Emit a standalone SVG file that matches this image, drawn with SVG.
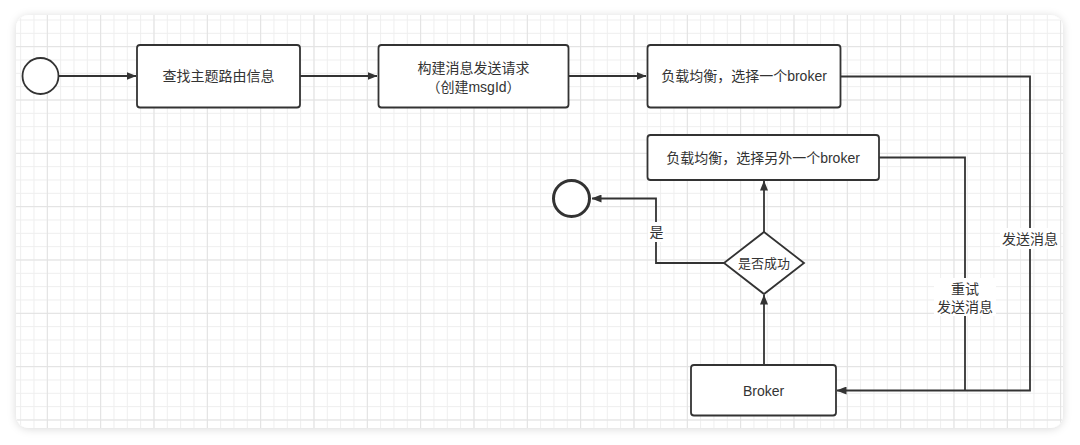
<svg xmlns="http://www.w3.org/2000/svg" width="1080" height="445" viewBox="0 0 1080 445">
  <style>
    .node { fill: #ffffff; stroke: #333333; stroke-width: 1.8; }
    .txt { font-family: "Liberation Sans", "Noto Sans CJK SC", sans-serif; font-size: 14px; fill: #333333; text-anchor: middle; dominant-baseline: central; }
    .edge { fill: none; stroke: #333333; stroke-width: 1.8; }
    .lbl-bg { fill: #ffffff; }
  </style>
  <defs>
    <filter id="shadow" x="-5%" y="-10%" width="110%" height="120%">
      <feDropShadow dx="0" dy="1" stdDeviation="4" flood-color="#000000" flood-opacity="0.15"/>
    </filter>
    <pattern id="minor" patternUnits="userSpaceOnUse" x="6.83" y="6.17" width="13.333" height="13.333">
      <path d="M0.5 0 V13.333 M0 0.5 H13.333" stroke="#eeeeee" stroke-width="1" fill="none"/>
    </pattern>
    <pattern id="major" patternUnits="userSpaceOnUse" x="46.83" y="46.17" width="53.333" height="53.333">
      <path d="M0.5 0 V53.333 M0 0.5 H53.333" stroke="#e2e2e2" stroke-width="1" fill="none"/>
    </pattern>
    <clipPath id="cardclip">
      <rect x="16" y="15" width="1047" height="413" rx="13"/>
    </clipPath>
    <marker id="arrow" viewBox="0 0 10 8" refX="9.5" refY="4" markerWidth="10" markerHeight="8" markerUnits="userSpaceOnUse" orient="auto">
      <path d="M0 0 L10 4 L0 8 Z" fill="#333333"/>
    </marker>
  </defs>

  <rect width="1080" height="445" fill="#ffffff"/>
  <rect x="16" y="15" width="1047" height="413" rx="13" fill="#ffffff" filter="url(#shadow)"/>
  <g clip-path="url(#cardclip)">
    <rect x="16" y="15" width="1047" height="413" fill="url(#minor)"/>
    <rect x="16" y="15" width="1047" height="413" fill="url(#major)"/>
  </g>

  <g id="connectors">
    <path class="edge" d="M59 76 H136" marker-end="url(#arrow)"/>
    <path class="edge" d="M300 76 H377" marker-end="url(#arrow)"/>
    <path class="edge" d="M568 76 H646" marker-end="url(#arrow)"/>
    <path class="edge" d="M841 76.5 H1030 V390.5 H837" marker-end="url(#arrow)"/>
    <path class="edge" d="M879 157.5 H965 V390.5"/>
    <path class="edge" d="M764 365 V295" marker-end="url(#arrow)"/>
    <path class="edge" d="M764 232 V181" marker-end="url(#arrow)"/>
    <path class="edge" d="M724 263 H656 V198.5 H592" marker-end="url(#arrow)"/>
    <rect class="lbl-bg" x="1000" y="228" width="60" height="21"/>
    <text class="txt" x="1030" y="238.5">发送消息</text>
    <rect class="lbl-bg" x="934" y="278" width="62" height="38"/>
    <text class="txt" x="965" y="288.5">重试</text>
    <text class="txt" x="965" y="306.5">发送消息</text>
    <rect class="lbl-bg" x="648" y="222" width="17" height="20"/>
    <text class="txt" x="656.5" y="232">是</text>
  </g>

  <g id="start">
    <circle class="node" cx="40.5" cy="76" r="18"/>
  </g>
  <g id="end">
    <circle class="node" cx="571.5" cy="198.5" r="18" style="stroke-width:3"/>
  </g>
  <g id="find-route">
    <rect class="node" x="137" y="45" width="163" height="62.5" rx="3"/>
    <text class="txt" x="218.5" y="76">查找主题路由信息</text>
  </g>
  <g id="build-request">
    <rect class="node" x="378.5" y="45" width="190" height="62.5" rx="3"/>
    <text class="txt" x="473.5" y="68">构建消息发送请求</text>
    <text class="txt" x="473.5" y="86.5">（创建msgId）</text>
  </g>
  <g id="choose-broker">
    <rect class="node" x="647.5" y="45" width="193" height="62.5" rx="3"/>
    <text class="txt" x="744" y="76">负载均衡，选择一个broker</text>
  </g>
  <g id="choose-other-broker">
    <rect class="node" x="647.5" y="135" width="231.5" height="45" rx="3"/>
    <text class="txt" x="763" y="157.5">负载均衡，选择另外一个broker</text>
  </g>
  <g id="is-success">
    <path class="node" d="M764 232 L804 263 L764 294 L724 263 Z"/>
    <text class="txt" x="764" y="263" style="font-size:13px">是否成功</text>
  </g>
  <g id="broker">
    <rect class="node" x="691" y="365" width="145" height="50.5" rx="3"/>
    <text class="txt" x="763.5" y="390.5">Broker</text>
  </g>
</svg>
